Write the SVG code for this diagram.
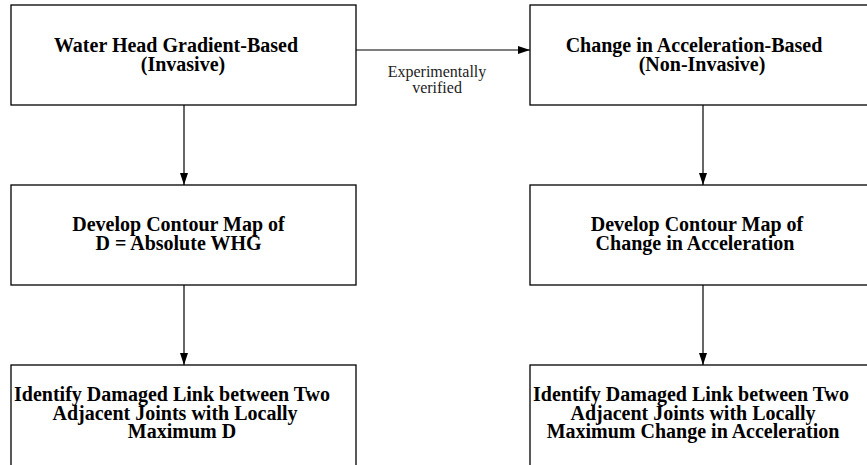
<svg xmlns="http://www.w3.org/2000/svg" width="867" height="465" viewBox="0 0 867 465">
<style>
.box{fill:#fff;stroke:#000;stroke-width:1.3}
.t{font-family:"Liberation Serif","Times New Roman",serif;font-weight:bold;font-size:20px;fill:#000;text-anchor:middle}
.lbl{font-family:"Liberation Serif","Times New Roman",serif;font-size:16px;fill:#222;text-anchor:middle}
.edge{stroke:#000;stroke-width:1.2;fill:none}
</style>
<defs>
<marker id="ah" viewBox="0 0 12 8" refX="12" refY="4" markerWidth="12" markerHeight="8" markerUnits="userSpaceOnUse" orient="auto">
<path d="M0,0 L12,4 L0,8 Z" fill="#000"/>
</marker>
</defs>
<rect width="867" height="465" fill="#fff"/>
<g id="connectors">
<line class="edge" x1="356" y1="50" x2="530" y2="50" marker-end="url(#ah)"/>
<line class="edge" x1="184" y1="105" x2="184" y2="185" marker-end="url(#ah)"/>
<line class="edge" x1="184" y1="285" x2="184" y2="365" marker-end="url(#ah)"/>
<line class="edge" x1="703" y1="105" x2="703" y2="185" marker-end="url(#ah)"/>
<line class="edge" x1="703" y1="285" x2="703" y2="365" marker-end="url(#ah)"/>
<text class="lbl" x="437" y="77">Experimentally</text>
<text class="lbl" x="437" y="93">verified</text>
</g>
<g id="n1">
<rect class="box" x="11" y="5" width="345" height="100"/>
<text class="t" x="176" y="52">Water Head Gradient-Based</text>
<text class="t" x="183" y="71">(Invasive)</text>
</g>
<g id="n2">
<rect class="box" x="530" y="5" width="345" height="100"/>
<text class="t" x="694" y="52">Change in Acceleration-Based</text>
<text class="t" x="702" y="71">(Non-Invasive)</text>
</g>
<g id="n3">
<rect class="box" x="11" y="185" width="345" height="100"/>
<text class="t" x="178.5" y="231">Develop Contour Map of</text>
<text class="t" x="178.5" y="250">D = Absolute WHG</text>
</g>
<g id="n4">
<rect class="box" x="530" y="185" width="345" height="100"/>
<text class="t" x="697" y="231">Develop Contour Map of</text>
<text class="t" x="695" y="250">Change in Acceleration</text>
</g>
<g id="n5">
<rect class="box" x="11" y="365" width="345" height="110"/>
<text class="t" x="172" y="401">Identify Damaged Link between Two</text>
<text class="t" x="175" y="420">Adjacent Joints with Locally</text>
<text class="t" x="182" y="438">Maximum D</text>
</g>
<g id="n6">
<rect class="box" x="530" y="365" width="345" height="110"/>
<text class="t" x="691" y="401">Identify Damaged Link between Two</text>
<text class="t" x="693" y="420">Adjacent Joints with Locally</text>
<text class="t" x="693" y="438">Maximum Change in Acceleration</text>
</g>
</svg>
